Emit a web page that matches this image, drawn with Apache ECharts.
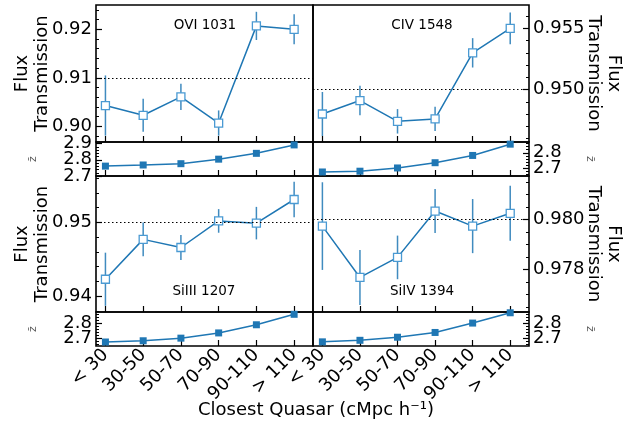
<!DOCTYPE html>
<html>
<head>
<meta charset="utf-8">
<script src="https://cdn.jsdelivr.net/npm/echarts@6/dist/echarts.min.js"></script>
<style>
  html, body { margin: 0; padding: 0; background: #fff; }
  #chart { width: 640px; height: 428px; }
</style>
</head>
<body>
<div id="chart"></div>
<script>
// distance bins to the closest quasar
const categories = ['< 30', '30-50', '50-70', '70-90', '90-110', '> 110'];

// OVI 1031
const oviFlux = [0.9043, 0.9023, 0.9061, 0.9007, 0.9207, 0.9200];
const oviErr = [0.0062, 0.0034, 0.0027, 0.0026, 0.0029, 0.0031];
const oviMean = 0.9093;
const oviZ = [2.761, 2.768, 2.776, 2.804, 2.840, 2.892];
const oviTicks = [0.90, 0.91, 0.92];

// CIV 1548
const civFlux = [0.9480, 0.9491, 0.9474, 0.9476, 0.9530, 0.9550];
const civErr = [0.0018, 0.0012, 0.0010, 0.0010, 0.0012, 0.0013];
const civMean = 0.9497;
const civZ = [2.676, 2.681, 2.702, 2.736, 2.783, 2.856];
const civTicks = [0.950, 0.955];

// SiIII 1207
const siiiiFlux = [0.9423, 0.9477, 0.9466, 0.9502, 0.9499, 0.9531];
const siiiiErr = [0.0036, 0.0023, 0.0017, 0.0016, 0.0022, 0.0024];
const siiiiMean = 0.9489;
const siiiiZ = [2.677, 2.685, 2.702, 2.736, 2.789, 2.857];
const siiiiTicks = [0.94, 0.95];

// SiIV 1394
const sivFlux = [0.97973, 0.97768, 0.97848, 0.98033, 0.97973, 0.98024];
const sivErr = [0.00175, 0.0011, 0.00087, 0.00088, 0.00108, 0.0011];
const sivMean = 0.97934;
const sivZ = [2.678, 2.688, 2.708, 2.739, 2.800, 2.867];
const sivTicks = [0.978, 0.980];

const zTicksTop = [2.7, 2.8, 2.9];
const zTicks = [2.7, 2.8];

const BLUE = '#1f77b4';
const FONT = 'DejaVu Sans';

// panel layout: main panel + small mean-redshift panel under it
const panels = [
  { label: 'OVI 1031', flux: oviFlux, err: oviErr, mean: oviMean, z: oviZ, ticks: oviTicks,
    range: [0.8968, 0.9250], minor: 0.002, digits: 2, zRange: [2.70, 2.91], zTicks: zTicksTop,
    left: 96, top: 5, width: 217, side: 'left', labelPos: [205, 25] },
  { label: 'CIV 1548', flux: civFlux, err: civErr, mean: civMean, z: civZ, ticks: civTicks,
    range: [0.94571, 0.95691], minor: 0.001, digits: 3, zRange: [2.65, 2.87], zTicks: zTicks,
    left: 313, top: 5, width: 216, side: 'right', labelPos: [422, 25] },
  { label: 'SiIII 1207', flux: siiiiFlux, err: siiiiErr, mean: siiiiMean, z: siiiiZ, ticks: siiiiTicks,
    range: [0.93787, 0.95628], minor: 0.002, digits: 2, zRange: [2.651, 2.872], zTicks: zTicks,
    left: 96, top: 176, width: 217, side: 'left', labelPos: [204, 291], bottom: true },
  { label: 'SiIV 1394', flux: sivFlux, err: sivErr, mean: sivMean, z: sivZ, ticks: sivTicks,
    range: [0.9763, 0.98173], minor: 0.0005, digits: 3, zRange: [2.651, 2.872], zTicks: zTicks,
    left: 313, top: 176, width: 216, side: 'right', labelPos: [422, 291], bottom: true }
];

const MAIN_H = 137;
const Z_H = 34;

function minorValues(range, step) {
  const out = [];
  for (let v = Math.ceil(range[0] / step) * step; v <= range[1] + 1e-12; v += step) {
    out.push(+v.toFixed(6));
  }
  return out;
}

function errorBar(params, api) {
  const x = api.value(0);
  const v = api.value(1);
  const e = api.value(2);
  const p1 = api.coord([x, v + e]);
  const p2 = api.coord([x, v - e]);
  const cs = params.coordSys;
  return {
    type: 'line',
    shape: { x1: p1[0], y1: Math.max(p1[1], cs.y), x2: p2[0], y2: Math.min(p2[1], cs.y + cs.height) },
    style: { stroke: BLUE, lineWidth: 1.5, opacity: 0.85 }
  };
}

const grids = [];
const xAxes = [];
const yAxes = [];
const series = [];
const graphics = [];
const xIdx = categories.map((c, i) => i);

panels.forEach(p => {
  const isLeft = p.side === 'left';
  const tickStyle = { color: '#000', width: 1.2 };
  const mainH = p.top === 5 ? MAIN_H : MAIN_H - 1;

  [
    { top: p.top, height: mainH, range: p.range, ticks: p.ticks, minor: p.minor,
      digits: p.digits, isZ: false },
    { top: p.top + mainH, height: Z_H, range: p.zRange, ticks: p.zTicks, minor: 0.02,
      digits: 1, isZ: true }
  ].forEach(g => {
    const gi = grids.length;
    grids.push({
      left: p.left, top: g.top, width: p.width, height: g.height,
      show: true, borderColor: '#000', borderWidth: 1.6, backgroundColor: 'transparent'
    });

    xAxes.push({
      type: 'value', gridIndex: gi, min: -0.25, max: 5.5,
      axisLine: { show: false, onZero: false }, splitLine: { show: false },
      axisTick: { show: true, inside: true, length: 6, lineStyle: tickStyle, customValues: xIdx },
      axisLabel: {
        show: !!(g.isZ && p.bottom), customValues: xIdx, rotate: 45, margin: 6,
        fontSize: 18, color: '#000', fontFamily: FONT, hideOverlap: false,
        showMinLabel: true, showMaxLabel: true,
        formatter: v => categories[Math.round(v)]
      }
    });

    // tick labels are split over two axes so close labels are never dropped
    const labelStyle = {
      show: true, margin: 4, fontSize: 18, color: '#000', fontFamily: FONT,
      hideOverlap: false, showMinLabel: true, showMaxLabel: true,
      formatter: v => v.toFixed(g.digits)
    };
    const labelsA = g.ticks.filter((t, i) => i % 2 === 0);
    const labelsB = g.ticks.filter((t, i) => i % 2 === 1);

    // major ticks
    yAxes.push({
      type: 'value', gridIndex: gi, position: p.side, min: g.range[0], max: g.range[1],
      axisLine: { show: false, onZero: false }, splitLine: { show: false },
      axisTick: { show: true, inside: true, length: 6, lineStyle: tickStyle, customValues: g.ticks },
      axisLabel: Object.assign({}, labelStyle, { customValues: labelsA }),
      name: g.isZ ? '' : 'Flux\nTransmission', nameLocation: 'middle',
      nameGap: isLeft ? 44 : 55, nameRotate: isLeft ? 90 : -90, nameMoveOverlap: false,
      nameTextStyle: { fontSize: 18, lineHeight: 20, fontFamily: FONT, color: '#000' }
    });
    // minor ticks
    yAxes.push({
      type: 'value', gridIndex: gi, position: p.side, min: g.range[0], max: g.range[1],
      axisLine: { show: false, onZero: false }, splitLine: { show: false },
      axisTick: { show: true, inside: true, length: 3, lineStyle: { color: '#000', width: 1 },
        customValues: minorValues(g.range, g.minor) },
      axisLabel: Object.assign({}, labelStyle, { show: labelsB.length > 0, customValues: labelsB })
    });

    const yi = yAxes.length - 2;
    if (!g.isZ) {
      series.push({
        type: 'custom', xAxisIndex: gi, yAxisIndex: yi, renderItem: errorBar,
        encode: { x: 0, y: 1 }, z: 2, silent: true,
        data: p.flux.map((v, i) => [i, v, p.err[i]])
      });
      series.push({
        type: 'line', xAxisIndex: gi, yAxisIndex: yi, z: 3,
        data: p.flux.map((v, i) => [i, v]),
        symbol: 'rect', symbolSize: 8, showSymbol: true,
        lineStyle: { color: BLUE, width: 1.5 },
        itemStyle: { color: '#fff', borderColor: '#4a9ad3', borderWidth: 1.3 },
        markLine: {
          silent: true, symbol: 'none', label: { show: false },
          lineStyle: { color: '#000', type: [1.5, 2.5], width: 1.2 },
          data: [{ yAxis: p.mean }]
        }
      });
    } else {
      series.push({
        type: 'line', xAxisIndex: gi, yAxisIndex: yi, z: 3,
        data: p.z.map((v, i) => [i, v]),
        symbol: 'rect', symbolSize: 7,
        lineStyle: { color: BLUE, width: 1.5 },
        itemStyle: { color: BLUE }
      });
      // mean redshift axis title
      graphics.push({
        type: 'text', x: isLeft ? 33 : 590, y: g.top + g.height / 2,
        rotation: isLeft ? Math.PI / 2 : -Math.PI / 2,
        style: { text: 'z\u0304', font: '11px "DejaVu Sans"', fill: '#555',
          textAlign: 'center', textVerticalAlign: 'middle' }
      });
    }
  });

  graphics.push({
    type: 'text', x: p.labelPos[0], y: p.labelPos[1],
    style: { text: p.label, font: '13.5px "DejaVu Sans"', fill: '#000', textAlign: 'center', textVerticalAlign: 'middle' }
  });
});

graphics.push({
  type: 'text', x: 316, y: 410,
  style: { text: 'Closest Quasar (cMpc h\u207B\u00B9)', font: '18px "DejaVu Sans"', fill: '#000',
    textAlign: 'center', textVerticalAlign: 'middle' }
});

const chart = echarts.init(document.getElementById('chart'));
chart.setOption({
  animation: false,
  backgroundColor: '#fff',
  grid: grids,
  xAxis: xAxes,
  yAxis: yAxes,
  series: series,
  graphic: graphics
});
</script>
</body>
</html>
